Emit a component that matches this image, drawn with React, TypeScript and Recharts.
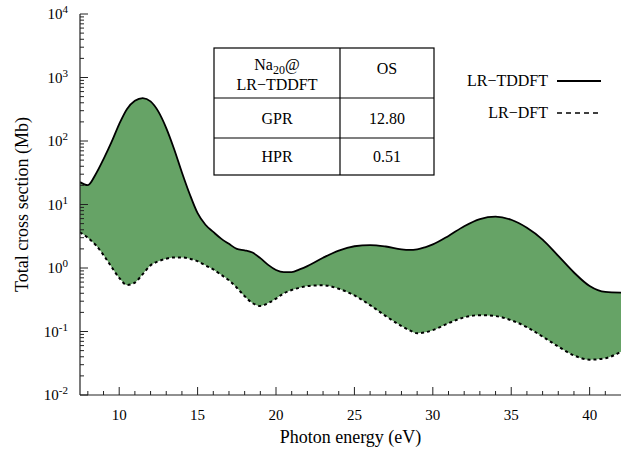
import { ComposedChart, Area, Line, XAxis, YAxis, Label } from 'recharts';

// photon energy grid (eV) and the two cross sections (Mb)
const energy = [
  7.5, 8, 8.5, 9, 9.5, 10, 10.5, 11, 11.5, 12, 12.5, 13, 13.5, 14, 14.5, 15, 15.5, 16, 16.5, 17,
  17.5, 18, 18.5, 19, 19.5, 20, 20.5, 21, 21.5, 22, 23, 24, 25, 26, 27, 28, 28.5, 29, 29.5, 30,
  31, 32, 33, 34, 35, 36, 37, 38, 39, 40, 41, 42,
];
const lrTddft = [
  22.5, 20.2, 30, 52, 95, 185, 320, 430, 475, 420, 290, 160, 75, 32, 14.5, 7.3, 4.8, 3.7, 2.9, 2.4,
  2.0, 1.9, 1.75, 1.43, 1.12, 0.93, 0.86, 0.86, 0.95, 1.07, 1.45, 1.88, 2.2, 2.3, 2.18, 1.97, 1.93, 1.97, 2.12, 2.35,
  3.2, 4.55, 5.9, 6.45, 5.75, 4.3, 2.8, 1.55, 0.85, 0.52, 0.42, 0.41,
];
const lrDft = [
  3.65, 3.0, 2.3, 1.6, 1.05, 0.7, 0.54, 0.59, 0.8, 1.1, 1.28, 1.4, 1.47, 1.47, 1.4, 1.28, 1.1, 0.95, 0.78, 0.64,
  0.49, 0.36, 0.28, 0.253, 0.28, 0.33, 0.4, 0.45, 0.49, 0.52, 0.535, 0.47, 0.37, 0.26, 0.175, 0.122, 0.105, 0.094, 0.097, 0.105,
  0.135, 0.167, 0.181, 0.175, 0.15, 0.117, 0.083, 0.058, 0.042, 0.036, 0.038, 0.048,
];

const xTicks = [8, 9, 10, 11, 12, 13, 14, 15, 16, 17, 18, 19, 20, 21, 22, 23, 24, 25, 26, 27, 28, 29, 30, 31, 32, 33, 34, 35, 36, 37, 38, 39, 40, 41];
const xLabelled = [10, 15, 20, 25, 30, 35, 40];
const yExponents = [-2, -1, 0, 1, 2, 3, 4];

const tableHeader = ['OS'];
const tableRows = [
  ['GPR', '12.80'],
  ['HPR', '0.51'],
];
const seriesNames = ['LR\u2212TDDFT', 'LR\u2212DFT'];

const data = energy.map((e, i) => ({ e, hi: lrTddft[i], lo: lrDft[i] }));

// decades plus the 2..9 minor ticks in between
const yTicks: number[] = [];
yExponents.forEach((p) => {
  for (let m = 1; m <= 9; m++) {
    if (p === 4 && m > 1) break;
    yTicks.push(m * Math.pow(10, p));
  }
});

const FONT = '"Liberation Serif", "Times New Roman", "DejaVu Serif", serif';
const AXIS = '#222';
const FILL = '#66a366';

const XTick = ({ x, y, payload, top }: any) => {
  const major = xLabelled.includes(payload.value);
  const len = major ? 8 : 4;
  const dir = top ? 1 : -1;
  return (
    <g>
      <line x1={x} x2={x} y1={y} y2={y + dir * len} stroke={AXIS} strokeWidth={1} />
      {!top && major && (
        <text x={x} y={y + 25} textAnchor="middle" fontSize={15} fontFamily={FONT} fill="#000">
          {payload.value}
        </text>
      )}
    </g>
  );
};

const YTick = ({ x, y, payload, right }: any) => {
  const lg = Math.log10(payload.value);
  const exp = Math.round(lg);
  const major = Math.abs(lg - exp) < 1e-6;
  const len = major ? 8 : 4;
  const dir = right ? -1 : 1;
  return (
    <g>
      <line x1={x} x2={x + dir * len} y1={y} y2={y} stroke={AXIS} strokeWidth={1} />
      {!right && major && (
        <text x={x - 12} y={y + 5} textAnchor="end" fontSize={15} fontFamily={FONT} fill="#000">
          10
          <tspan dy={-6} fontSize={11}>
            {exp < 0 ? `-${-exp}` : exp}
          </tspan>
        </text>
      )}
    </g>
  );
};

const YTitle = ({ viewBox }: any) => {
  const cx = viewBox.x + 22;
  const cy = viewBox.y + viewBox.height / 2;
  return (
    <text
      x={cx}
      y={cy}
      transform={`rotate(-90, ${cx}, ${cy})`}
      textAnchor="middle"
      dominantBaseline="central"
      fontSize={18}
      fontFamily={FONT}
      fill="#000"
    >
      Total cross section (Mb)
    </text>
  );
};

// inset table + legend drawn on top of the plot
const Overlay = () => {
  const left = 214;
  const mid = 340;
  const right = 434;
  const rowsY = [48, 98, 138, 175];
  const c1 = (left + mid) / 2;
  const c2 = (mid + right) / 2;
  return (
    <svg width={622} height={451} style={{ position: 'absolute', left: 0, top: 0, pointerEvents: 'none' }}>
      <g fontFamily={FONT} fontSize={16} fill="#000">
        <rect x={left} y={rowsY[0]} width={right - left} height={rowsY[3] - rowsY[0]} fill="#fff" stroke="#000" strokeWidth={1.2} />
        <line x1={mid} x2={mid} y1={rowsY[0]} y2={rowsY[3]} stroke="#000" strokeWidth={1.2} />
        <line x1={left} x2={right} y1={rowsY[1]} y2={rowsY[1]} stroke="#000" strokeWidth={1.2} />
        <line x1={left} x2={right} y1={rowsY[2]} y2={rowsY[2]} stroke="#000" strokeWidth={1.2} />
        <text x={c1} y={70} textAnchor="middle">
          Na<tspan dy={4} fontSize={12}>20</tspan>
          <tspan dy={-4}>@</tspan>
        </text>
        <text x={c1} y={90} textAnchor="middle">
          {seriesNames[0]}
        </text>
        <text x={c2} y={74} textAnchor="middle">
          {tableHeader[0]}
        </text>
        {tableRows.map((r, i) => {
          const yy = (rowsY[i + 1] + rowsY[i + 2]) / 2 + 5.5;
          return (
            <g key={r[0]}>
              <text x={c1} y={yy} textAnchor="middle">
                {r[0]}
              </text>
              <text x={c2} y={yy} textAnchor="middle">
                {r[1]}
              </text>
            </g>
          );
        })}
        {seriesNames.map((n, i) => {
          const ly = 81 + i * 32;
          return (
            <g key={n}>
              <text x={548} y={ly + 5} textAnchor="end">
                {n}
              </text>
              <line
                x1={557}
                x2={601}
                y1={ly}
                y2={ly}
                stroke="#000"
                strokeWidth={i === 0 ? 1.8 : 1.5}
                strokeDasharray={i === 0 ? undefined : '5 4'}
              />
            </g>
          );
        })}
      </g>
    </svg>
  );
};

export default function App() {
  return (
    <div style={{ position: 'absolute', left: 0, top: 0, width: 622, height: 451, background: '#fff' }}>
      <ComposedChart width={622} height={451} data={data} margin={{ top: 14, right: 1, bottom: 0, left: 0 }}>
        <XAxis
          dataKey="e"
          type="number"
          domain={[7.5, 42]}
          ticks={xTicks}
          interval={0}
          allowDataOverflow
          height={56}
          tickSize={0}
          tickMargin={0}
          tickLine={false}
          axisLine={{ stroke: AXIS, strokeWidth: 1.2 }}
          tick={<XTick />}
        >
          <Label value="Photon energy (eV)" position="insideBottom" offset={8} fontSize={18} fontFamily={FONT} fill="#000" />
        </XAxis>
        <XAxis
          xAxisId="top"
          dataKey="e"
          type="number"
          orientation="top"
          domain={[7.5, 42]}
          ticks={xTicks}
          interval={0}
          allowDataOverflow
          height={0}
          tickSize={0}
          tickMargin={0}
          tickLine={false}
          axisLine={{ stroke: AXIS, strokeWidth: 1.2 }}
          tick={<XTick top />}
        />
        <YAxis
          scale="log"
          domain={[0.01, 10000]}
          ticks={yTicks}
          interval={0}
          allowDataOverflow
          width={80}
          tickSize={0}
          tickMargin={0}
          tickLine={false}
          axisLine={{ stroke: AXIS, strokeWidth: 1.2 }}
          tick={<YTick />}
        >
          <Label content={<YTitle />} />
        </YAxis>
        <YAxis
          yAxisId="right"
          orientation="right"
          scale="log"
          domain={[0.01, 10000]}
          ticks={yTicks}
          interval={0}
          allowDataOverflow
          width={0}
          tickSize={0}
          tickMargin={0}
          tickLine={false}
          axisLine={{ stroke: AXIS, strokeWidth: 1.2 }}
          tick={<YTick right />}
        />
        <Area
          dataKey={(d: any) => [d.lo, d.hi]}
          type="monotone"
          stroke="none"
          fill={FILL}
          fillOpacity={1}
          isAnimationActive={false}
          legendType="none"
        />
        <Line dataKey="hi" name={seriesNames[0]} type="monotone" stroke="#000" strokeWidth={1.8} dot={false} isAnimationActive={false} />
        <Line
          dataKey="lo"
          name={seriesNames[1]}
          type="monotone"
          stroke="#000"
          strokeWidth={2}
          strokeDasharray="3 3"
          dot={false}
          isAnimationActive={false}
        />
      </ComposedChart>
      <Overlay />
    </div>
  );
}
